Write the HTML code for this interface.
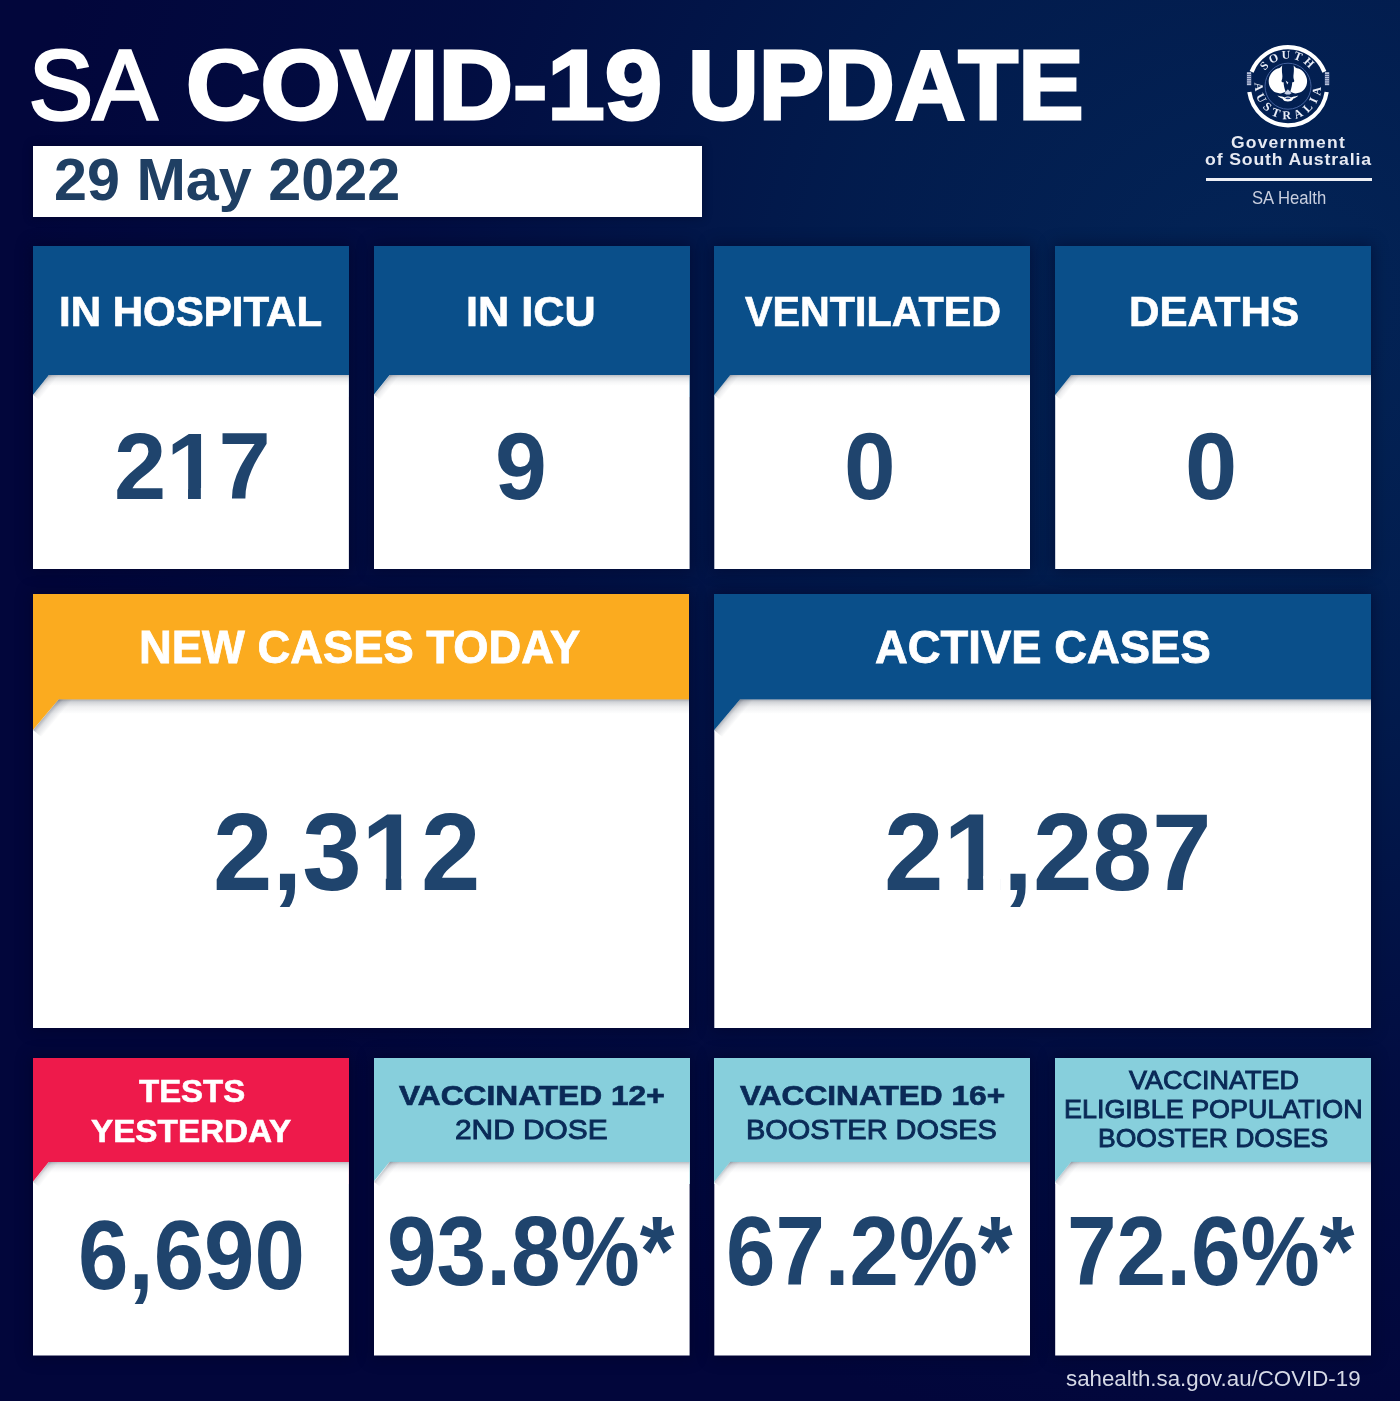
<!DOCTYPE html>
<html lang="en"><head><meta charset="utf-8"><title>SA COVID-19 Update</title>
<style>
*{margin:0;padding:0;box-sizing:border-box}
html,body{width:1400px;height:1401px;overflow:hidden;background:#02063b}
body{font-family:"Liberation Sans",Arial,sans-serif}
#page{position:relative;width:1400px;height:1401px;overflow:hidden;
 background:
  radial-gradient(ellipse 1250px 1150px at 1270px 300px, rgba(3,38,88,0.95) 0%, rgba(2,31,80,0.85) 35%, rgba(2,20,72,0.5) 68%, rgba(2,6,59,0) 100%),
  #02063b;}
.t{position:absolute;white-space:nowrap;line-height:1;transform-origin:0 0;}
.t .m{position:absolute;top:0.722em;height:0.134em;background:#fff}
.datebar{position:absolute;left:32.9px;top:146.2px;width:669.1px;height:71px;background:#fff;box-shadow:0 0 8px 1px rgba(0,0,30,0.35)}
.card .bd .cs{position:absolute;left:0;height:11px;transform-origin:0 0;background:linear-gradient(to bottom, rgba(30,40,60,0.36) 0, rgba(30,40,60,0.14) 4px, rgba(30,40,60,0) 11px)}
.card{position:absolute;box-shadow:0 0 14px 2px rgba(0,0,30,0.42)}
.card .hd{position:absolute;left:0;top:0;width:100%;}
.card .bd{position:absolute;left:0;bottom:0;width:100%;background:linear-gradient(to bottom, rgba(30,40,60,0.42) 0, rgba(30,40,60,0.2) 3px, rgba(30,40,60,0.07) 8px, rgba(30,40,60,0) 15px),#fff;}
.card.sm .bd{background:linear-gradient(to bottom, rgba(30,40,60,0.30) 0, rgba(30,40,60,0.13) 3px, rgba(30,40,60,0.04) 7px, rgba(30,40,60,0) 11px),#fff}
.card.sm .bd .cs{height:8px;background:linear-gradient(to bottom, rgba(30,40,60,0.26) 0, rgba(30,40,60,0.09) 3px, rgba(30,40,60,0) 8px)}
.rule{position:absolute;left:1205.5px;top:177.8px;width:166px;height:3.6px;background:#eef0f6}
#logo{position:absolute;left:1238px;top:36px;width:100px;height:100px;overflow:visible}
</style></head><body>
<div id="page">
<div class="datebar"></div>
<div class="card sm" id="c1" style="left:32.9px;top:245.6px;width:316.0px;height:323.8px"><div class="hd" style="height:151.4px;background:#0a4f8a"></div><div class="bd" style="height:194.4px;clip-path:polygon(16px 0,100% 0,100% 100%,0 100%,0 20px)"><i class="cs" style="top:20px;width:39.6px;transform:rotate(-51.34deg)"></i></div></div>
<div class="card sm" id="c2" style="left:373.6px;top:245.6px;width:316.0px;height:323.8px"><div class="hd" style="height:151.4px;background:#0a4f8a"></div><div class="bd" style="height:194.4px;clip-path:polygon(16px 0,100% 0,100% 100%,0 100%,0 20px)"><i class="cs" style="top:20px;width:39.6px;transform:rotate(-51.34deg)"></i></div></div>
<div class="card sm" id="c3" style="left:714.3px;top:245.6px;width:316.0px;height:323.8px"><div class="hd" style="height:151.4px;background:#0a4f8a"></div><div class="bd" style="height:194.4px;clip-path:polygon(16px 0,100% 0,100% 100%,0 100%,0 20px)"><i class="cs" style="top:20px;width:39.6px;transform:rotate(-51.34deg)"></i></div></div>
<div class="card sm" id="c4" style="left:1055.2px;top:245.6px;width:316.0px;height:323.8px"><div class="hd" style="height:151.4px;background:#0a4f8a"></div><div class="bd" style="height:194.4px;clip-path:polygon(16px 0,100% 0,100% 100%,0 100%,0 20px)"><i class="cs" style="top:20px;width:39.6px;transform:rotate(-51.34deg)"></i></div></div>
<div class="card" id="c5" style="left:32.9px;top:593.9px;width:656.6px;height:434.6px"><div class="hd" style="height:138.1px;background:#fbab1f"></div><div class="bd" style="height:329.1px;clip-path:polygon(25.7px 0,100% 0,100% 100%,0 100%,0 30.6px)"><i class="cs" style="top:30.6px;width:54.0px;transform:rotate(-49.97deg)"></i></div></div>
<div class="card" id="c6" style="left:714.3px;top:593.9px;width:656.9px;height:434.6px"><div class="hd" style="height:138.1px;background:#0a4f8a"></div><div class="bd" style="height:329.1px;clip-path:polygon(25.7px 0,100% 0,100% 100%,0 100%,0 30.6px)"><i class="cs" style="top:30.6px;width:54.0px;transform:rotate(-49.97deg)"></i></div></div>
<div class="card sm" id="c7" style="left:32.9px;top:1058px;width:316.0px;height:297.6px"><div class="hd" style="height:125.8px;background:#ee1a4b"></div><div class="bd" style="height:193.8px;clip-path:polygon(16px 0,100% 0,100% 100%,0 100%,0 20px)"><i class="cs" style="top:20px;width:39.6px;transform:rotate(-51.34deg)"></i></div></div>
<div class="card sm" id="c8" style="left:373.6px;top:1058px;width:316.0px;height:297.6px"><div class="hd" style="height:125.8px;background:#87cfdc"></div><div class="bd" style="height:193.8px;clip-path:polygon(16px 0,100% 0,100% 100%,0 100%,0 20px)"><i class="cs" style="top:20px;width:39.6px;transform:rotate(-51.34deg)"></i></div></div>
<div class="card sm" id="c9" style="left:714.3px;top:1058px;width:316.0px;height:297.6px"><div class="hd" style="height:125.8px;background:#87cfdc"></div><div class="bd" style="height:193.8px;clip-path:polygon(16px 0,100% 0,100% 100%,0 100%,0 20px)"><i class="cs" style="top:20px;width:39.6px;transform:rotate(-51.34deg)"></i></div></div>
<div class="card sm" id="c10" style="left:1055.2px;top:1058px;width:316.0px;height:297.6px"><div class="hd" style="height:125.8px;background:#87cfdc"></div><div class="bd" style="height:193.8px;clip-path:polygon(16px 0,100% 0,100% 100%,0 100%,0 20px)"><i class="cs" style="top:20px;width:39.6px;transform:rotate(-51.34deg)"></i></div></div>
<svg id="logo" viewBox="0 0 100 100" role="img" aria-label="Government of South Australia crest"><defs><path id="arcTop" d="M22.40 50.20 A27.6 27.6 0 0 1 77.60 50.20"/><path id="arcBot" d="M17.00 50.20 A33.0 33.0 0 0 0 83.00 50.20"/></defs><path d="M13.62 35.87 A39.1 39.1 0 0 1 86.38 35.87" fill="none" stroke="#fff" stroke-width="4.2"/><path d="M88.67 55.98 A39.1 39.1 0 0 1 11.33 55.98" fill="none" stroke="#fff" stroke-width="4.2"/><rect x="8.9" y="36.2" width="4.3" height="13" fill="#b9c2da"/><rect x="8.9" y="38.02" width="4.3" height="0.7" fill="#2a3f78"/><rect x="8.9" y="40.18" width="4.3" height="0.7" fill="#2a3f78"/><rect x="8.9" y="42.35" width="4.3" height="0.7" fill="#2a3f78"/><rect x="8.9" y="44.52" width="4.3" height="0.7" fill="#2a3f78"/><rect x="8.9" y="46.68" width="4.3" height="0.7" fill="#2a3f78"/><rect x="86.9" y="36.2" width="4.3" height="13" fill="#b9c2da"/><rect x="86.9" y="38.02" width="4.3" height="0.7" fill="#2a3f78"/><rect x="86.9" y="40.18" width="4.3" height="0.7" fill="#2a3f78"/><rect x="86.9" y="42.35" width="4.3" height="0.7" fill="#2a3f78"/><rect x="86.9" y="44.52" width="4.3" height="0.7" fill="#2a3f78"/><rect x="86.9" y="46.68" width="4.3" height="0.7" fill="#2a3f78"/><circle cx="50.0" cy="50.2" r="23" fill="none" stroke="#42609d" stroke-width="1"/><g font-family="'Liberation Serif',serif" font-weight="700" fill="#e9edf7" text-anchor="middle"><text font-size="11.8" letter-spacing="2.6"><textPath href="#arcTop" startOffset="50%">SOUTH</textPath></text><text font-size="12" letter-spacing="4.4"><textPath href="#arcBot" startOffset="50%">AUSTRALIA</textPath></text></g><path d="M44.2 29.5 C42.5 31.5 41.5 32.2 39.5 32.6 C36 33.8 32 37.5 30.9 43 C29.8 49 33 54.5 38 56.6 C41.5 58 45 57.6 47.6 55.6 C46.4 52.5 45.6 49 45.6 46.2 C44.2 46.6 43.4 46 43.6 44.6 C44.4 42.6 44.6 40.5 44.2 38 C43.8 35 43.8 32 44.2 29.5Z" fill="#fff"/><path d="M44.2 29.5 C42.5 31.5 41.5 32.2 39.5 32.6 C36 33.8 32 37.5 30.9 43 C29.8 49 33 54.5 38 56.6 C41.5 58 45 57.6 47.6 55.6 C46.4 52.5 45.6 49 45.6 46.2 C44.2 46.6 43.4 46 43.6 44.6 C44.4 42.6 44.6 40.5 44.2 38 C43.8 35 43.8 32 44.2 29.5Z" fill="#fff" transform="translate(99.8 0) scale(-1 1)"/><path d="M47.6 44.6 L50.4 46.6 L49.2 48.6 Z" fill="#dfe5f3"/><path d="M46.2 57.2 L49.9 53.2 L53.6 57.2 L51.6 58.4 L48.2 58.4Z" fill="#c9d2e8"/><path d="M39.4 59.6 C43 60.6 45.6 60.9 46.8 61.4 C48.6 60.2 51.2 60.2 53 61.4 C54.4 60.9 57 60.6 60.4 59.6 C58.6 61.6 57 62.2 55.4 62.6 C54.4 65 52.2 65.6 49.9 65.6 C47.6 65.6 45.4 65 44.4 62.6 C42.8 62.2 41.2 61.6 39.4 59.6Z" fill="#fff"/><ellipse cx="49.9" cy="62.3" rx="2.6" ry="0.9" fill="#24407f"/></svg>
<div class="rule"></div>
<div class="t" id="t1" style="left:29.49px;top:35.54px;font-size:98.7px;font-weight:400;color:#ffffff;transform:scaleX(0.9709);-webkit-text-stroke:3.4px #ffffff;">SA</div>
<div class="t" id="t2" style="left:185.97px;top:35.86px;font-size:98.56px;font-weight:700;color:#ffffff;transform:scaleX(1.0477);-webkit-text-stroke:3px #ffffff;">COVID-19</div>
<div class="t" id="t3" style="left:688.22px;top:35.86px;font-size:98.56px;font-weight:700;color:#ffffff;transform:scaleX(0.9942);-webkit-text-stroke:3px #ffffff;">UPDATE</div>
<div class="t" id="date" style="left:53.92px;top:150.29px;font-size:59.43px;font-weight:700;color:#1f3f63;transform:scaleX(0.9979);">29 May 2022</div>
<div class="t" id="h1" style="left:59.02px;top:290.96px;font-size:42.16px;font-weight:700;color:#ffffff;transform:scaleX(0.9971);-webkit-text-stroke:0.7px #ffffff;">IN HOSPITAL</div>
<div class="t" id="h2" style="left:466.04px;top:290.96px;font-size:42.16px;font-weight:700;color:#ffffff;transform:scaleX(1.0245);-webkit-text-stroke:0.7px #ffffff;">IN ICU</div>
<div class="t" id="h3" style="left:745.14px;top:290.96px;font-size:42.16px;font-weight:700;color:#ffffff;transform:scaleX(0.979);-webkit-text-stroke:0.7px #ffffff;">VENTILATED</div>
<div class="t" id="h4" style="left:1128.61px;top:290.96px;font-size:42.16px;font-weight:700;color:#ffffff;transform:scaleX(0.9994);-webkit-text-stroke:0.7px #ffffff;">DEATHS</div>
<div class="t" id="n1" style="left:113.78px;top:419.45px;font-size:95.14px;font-weight:700;color:#1f446d;transform:scaleX(0.987);">217<i class="m" style="left:0.6082em;width:0.1770em"></i><i class="m" style="left:0.9287em;width:0.1650em"></i></div>
<div class="t" id="n2" style="left:495.2px;top:418.92px;font-size:95.35px;font-weight:700;color:#1f446d;transform:scaleX(0.9781);">9</div>
<div class="t" id="n3" style="left:844.25px;top:418.92px;font-size:95.35px;font-weight:700;color:#1f446d;transform:scaleX(0.9731);">0</div>
<div class="t" id="n4" style="left:1185.22px;top:418.92px;font-size:95.35px;font-weight:700;color:#1f446d;transform:scaleX(0.9839);">0</div>
<div class="t" id="h5" style="left:138.85px;top:624.32px;font-size:46.04px;font-weight:700;color:#ffffff;transform:scaleX(0.9856);-webkit-text-stroke:0.8px #ffffff;">NEW CASES TODAY</div>
<div class="t" id="h6" style="left:875.49px;top:624.32px;font-size:46.04px;font-weight:700;color:#ffffff;transform:scaleX(0.9868);-webkit-text-stroke:0.8px #ffffff;">ACTIVE CASES</div>
<div class="t" id="n5" style="left:213.39px;top:796.76px;font-size:110.14px;font-weight:700;color:#1f446d;transform:scaleX(0.9708);">2,312<i class="m" style="left:1.4421em;width:0.1770em"></i><i class="m" style="left:1.7626em;width:0.1650em"></i></div>
<div class="t" id="n6" style="left:884.29px;top:796.76px;font-size:110.14px;font-weight:700;color:#1f446d;transform:scaleX(0.9725);">21,287<i class="m" style="left:0.6082em;width:0.1770em"></i><i class="m" style="left:0.9287em;width:0.1650em"></i></div>
<div class="t" id="h7a" style="left:138.97px;top:1076.06px;font-size:31.94px;font-weight:700;color:#ffffff;transform:scaleX(1.0322);-webkit-text-stroke:0.6px #ffffff;">TESTS</div>
<div class="t" id="h7b" style="left:91.2px;top:1115.57px;font-size:31.22px;font-weight:700;color:#ffffff;transform:scaleX(1.0655);-webkit-text-stroke:0.6px #ffffff;">YESTERDAY</div>
<div class="t" id="h8a" style="left:398.94px;top:1081.03px;font-size:28.49px;font-weight:700;color:#0a2a57;transform:scaleX(1.1127);-webkit-text-stroke:0.7px #0a2a57;">VACCINATED 12+</div>
<div class="t" id="h8b" style="left:454.76px;top:1114.58px;font-size:28.26px;font-weight:400;color:#0a2a57;transform:scaleX(1.0572);-webkit-text-stroke:0.95px #0a2a57;">2ND DOSE</div>
<div class="t" id="h9a" style="left:740.19px;top:1081.03px;font-size:28.49px;font-weight:700;color:#0a2a57;transform:scaleX(1.1106);-webkit-text-stroke:0.7px #0a2a57;">VACCINATED 16+</div>
<div class="t" id="h9b" style="left:746.43px;top:1114.58px;font-size:28.26px;font-weight:400;color:#0a2a57;transform:scaleX(1.0247);-webkit-text-stroke:0.95px #0a2a57;">BOOSTER DOSES</div>
<div class="t" id="h10a" style="left:1128.75px;top:1067.73px;font-size:25.72px;font-weight:400;color:#0a2a57;transform:scaleX(1.0496);-webkit-text-stroke:0.95px #0a2a57;">VACCINATED</div>
<div class="t" id="h10b" style="left:1064.1px;top:1095.86px;font-size:26.45px;font-weight:400;color:#0a2a57;transform:scaleX(1.0179);-webkit-text-stroke:0.95px #0a2a57;">ELIGIBLE POPULATION</div>
<div class="t" id="h10c" style="left:1097.88px;top:1124.61px;font-size:26.45px;font-weight:400;color:#0a2a57;transform:scaleX(1.0042);-webkit-text-stroke:0.95px #0a2a57;">BOOSTER DOSES</div>
<div class="t" id="n7" style="left:77.73px;top:1205.55px;font-size:98.59px;font-weight:700;color:#1f446d;transform:scaleX(0.9199);">6,690</div>
<div class="t" id="n8" style="left:386.82px;top:1203.15px;font-size:97.89px;font-weight:700;color:#1f446d;transform:scaleX(0.9111);">93.8%*</div>
<div class="t" id="n9" style="left:725.89px;top:1203.15px;font-size:97.89px;font-weight:700;color:#1f446d;transform:scaleX(0.9078);">67.2%*</div>
<div class="t" id="n10" style="left:1067.43px;top:1203.15px;font-size:97.89px;font-weight:700;color:#1f446d;transform:scaleX(0.9108);">72.6%*</div>
<div class="t" id="foot" style="left:1065.94px;top:1367.90px;font-size:22.32px;font-weight:400;color:#d5d9e6;transform:scaleX(0.9994);">sahealth.sa.gov.au/COVID-19</div>
<div class="t" id="g1" style="left:1231.4px;top:135.27px;font-size:16.69px;font-weight:700;color:#e6e9f2;transform:scaleX(1.05);letter-spacing:1.113px;">Government</div>
<div class="t" id="g2" style="left:1204.78px;top:152.05px;font-size:16.83px;font-weight:700;color:#e6e9f2;transform:scaleX(1.05);letter-spacing:0.815px;">of South Australia</div>
<div class="t" id="g3" style="left:1251.65px;top:189.91px;font-size:17.83px;font-weight:400;color:#c9cfdf;transform:scaleX(0.9353);">SA Health</div>
</div></body></html>
